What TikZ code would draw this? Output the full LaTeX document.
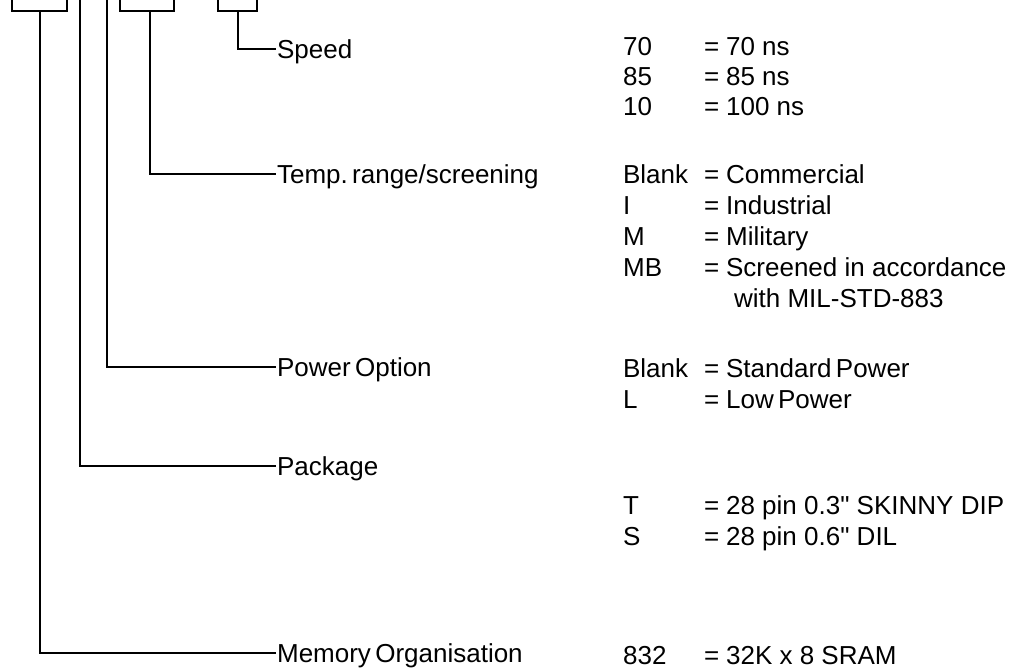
\documentclass[tikz,border=0pt]{standalone}
\usepackage{fontspec}
\setmainfont{Liberation Sans}
\begin{document}
\begin{tikzpicture}[x=1pt,y=-1pt,line width=2.2pt,
  every node/.style={font=\fontsize{26}{30}\selectfont,inner sep=0pt},
  lbl/.style={anchor=west,text height=19pt,text depth=0pt},
  cell/.style={anchor=base west},
  box/.style={draw,minimum height=40pt,anchor=south west}]
\useasboundingbox (0,0) rectangle (1011,671);
% boxes (cut off at the top)
\node[box,minimum width=55pt] (b1) at (11,12) {};
\node[box,minimum width=54pt] (b2) at (119,12) {};
\node[box,minimum width=39pt] (b3) at (217,12) {};
\coordinate (p1) at (80,-5);
\coordinate (p2) at (107,-5);
% labels
\node[lbl] (speed) at (276,49) {Speed};
\node[lbl] (temp)  at (276,174) {Temp.\,range/screening};
\node[lbl] (power) at (276,367) {Power\,Option};
\node[lbl] (pack)  at (276,466) {Package};
\node[lbl] (mem)   at (276,653) {Memory\,Organisation};
% connectors
\draw (b3.south) |- (speed.west);
\draw ([xshift=3pt]b2.south) |- (temp.west);
\draw (p2) |- (power.west);
\draw (p1) |- (pack.west);
\draw (b1.south) |- (mem.west);
% code table
\newcommand{\coderow}[4]{%
  \node[cell] (c#1) at (622,#2) {#3};
  \node[cell] (e#1) at (703,#2) {=};
  \node[cell] (v#1) at (725,#2) {#4};}
\coderow{s1}{56}{70}{70 ns}
\coderow{s2}{86}{85}{85 ns}
\coderow{s3}{116}{10}{100 ns}
\coderow{t1}{183}{Blank}{Commercial}
\coderow{t2}{214}{I}{Industrial}
\coderow{t3}{245}{M}{Military}
\coderow{t4}{276}{MB}{Screened in accordance}
\node[cell] (t5) at (733,307) {with MIL-STD-883};
\coderow{w1}{377}{Blank}{Standard\,Power}
\coderow{w2}{408}{L}{Low\,Power}
\coderow{k1}{514}{T}{28 pin 0.3\textquotedbl{} SKINNY DIP}
\coderow{k2}{545}{S}{28 pin 0.6\textquotedbl{} DIL}
\coderow{m1}{664}{832}{32K x 8 SRAM}
\end{tikzpicture}
\end{document}
